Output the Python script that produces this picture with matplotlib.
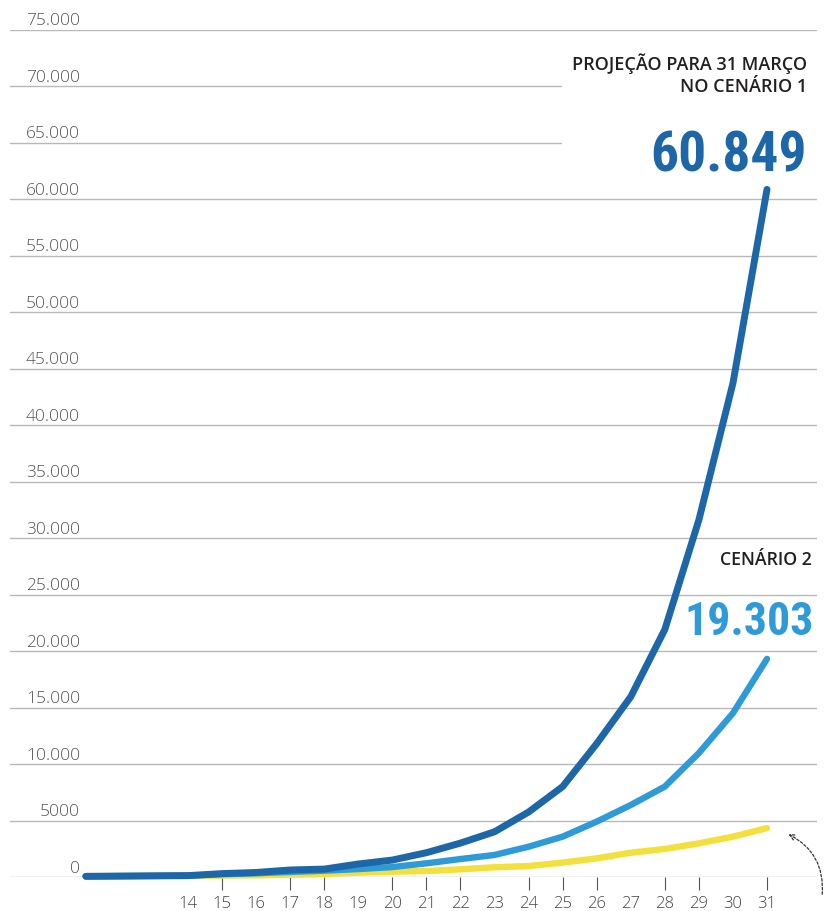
import matplotlib
matplotlib.use("Agg")
import matplotlib.pyplot as plt
import matplotlib.transforms as mtransforms
from matplotlib.patches import Rectangle

# dias de março
dias = list(range(11, 32))
cenario1 = [60, 80, 100, 120, 300, 400, 620, 700, 1150, 1500, 2150, 3000,
            4000, 5750, 8000, 11800, 15950, 21900, 31600, 43700, 60849]
cenario2 = [60, 80, 100, 120, 250, 330, 450, 560, 700, 880, 1210, 1590,
            1950, 2680, 3570, 4900, 6370, 8000, 10970, 14500, 19303]
cenario3 = [60, 80, 100, 110, 120, 150, 200, 270, 380, 470, 530, 680,
            860, 970, 1270, 1650, 2150, 2480, 2980, 3570, 4330]

dias_rotulo = list(range(14, 32))
dias_marca = [15, 17, 18, 20, 21, 22, 24, 25, 26, 28, 29, 31]
y_valores = list(range(0, 75001, 5000))
y_rotulos = ["0", "5000", "10.000", "15.000", "20.000", "25.000", "30.000",
             "35.000", "40.000", "45.000", "50.000", "55.000", "60.000",
             "65.000", "70.000", "75.000"]

AZUL_ESC = "#1d67a8"
AZUL_CLARO = "#2e9bd8"
AMARELO = "#f4e03c"
FONTE_NUM = ["Roboto Condensed", "Liberation Sans Narrow", "Roboto"]

fig = plt.figure(figsize=(8.24, 9.11), dpi=100)
ax = fig.add_axes([10 / 824, 34 / 911, 807 / 824, 847.5 / 911])

ax.set_xlim(8.775, 32.468)
ax.set_ylim(0, 75000)
for s in ax.spines.values():
    s.set_visible(False)

# grade horizontal
ax.set_yticks(y_valores)
ax.tick_params(axis="y", length=0, labelleft=False)
ax.set_axisbelow(True)
ax.yaxis.grid(True, color="#b8b8b8", linewidth=1)

trans = mtransforms.blended_transform_factory(ax.transAxes, ax.transData)
trans = mtransforms.offset_copy(trans, fig=fig, y=3, units="points")
for v, r in zip(y_valores, y_rotulos):
    ax.text(0.0867, v, r, transform=trans, ha="right", va="baseline",
            fontsize=12.5, color="#555555", family="Open Sans",
            fontweight="light")

# eixo x: rótulos em todos os dias, marcas só em alguns
ax.xaxis.remove_overlapping_locs = False
ax.set_xticks(dias_rotulo)
ax.set_xticklabels([str(d) for d in dias_rotulo], family="Open Sans",
                   fontweight="light", fontsize=12, color="#444444")
ax.tick_params(axis="x", which="major", length=0, pad=13.5)
ax.set_xticks(dias_marca, minor=True)
ax.tick_params(axis="x", which="minor", length=9.5, width=0.8,
               color="#555555", direction="out", labelbottom=False)

# linhas
kw = dict(solid_capstyle="round", solid_joinstyle="round", clip_on=False)
ax.plot(dias, cenario3, color=AMARELO, lw=4.6, zorder=3, **kw)
ax.plot(dias, cenario2, color=AZUL_CLARO, lw=4.6, zorder=4, **kw)
ax.plot(dias, cenario1, color=AZUL_ESC, lw=5.0, zorder=5, **kw)

# caixa branca atrás da projeção
ax.add_patch(Rectangle((0.684, 0.828), 0.33, 0.16, transform=ax.transAxes,
                       facecolor="white", edgecolor="none", zorder=1,
                       clip_on=False))

ax.text(0.9876, 0.972, "PROJEÇÃO PARA 31 MARÇO\nNO CENÁRIO 1",
        transform=ax.transAxes, ha="right", va="top", ma="right",
        family="Open Sans", fontweight="semibold", fontsize=13,
        color="#231f20", linespacing=1.3, zorder=6)
ax.text(0.9876, 0.8319, "60.849", transform=ax.transAxes, ha="right",
        va="baseline", family=FONTE_NUM, fontweight="bold", fontsize=40,
        color=AZUL_ESC, zorder=6)

ax.text(0.9938, 0.368, "CENÁRIO 2", transform=ax.transAxes, ha="right",
        va="baseline", family="Open Sans", fontweight="semibold",
        fontsize=12.8, color="#231f20", zorder=6)
ax.text(0.9963, 0.2855, "19.303", transform=ax.transAxes, ha="right",
        va="baseline", family=FONTE_NUM, fontweight="bold", fontsize=33,
        color=AZUL_CLARO, zorder=6,
        bbox=dict(facecolor="white", edgecolor="none", pad=1.5))

# seta tracejada no canto
ax.annotate("", xy=(786, 78), xycoords="figure pixels",
            xytext=(822, 14), textcoords="figure pixels",
            arrowprops=dict(arrowstyle="->", connectionstyle="arc3,rad=0.35",
                            linestyle=(0, (2, 1.5)), color="#333333", lw=0.9),
            annotation_clip=False)

fig.savefig("out.png", dpi=100)
